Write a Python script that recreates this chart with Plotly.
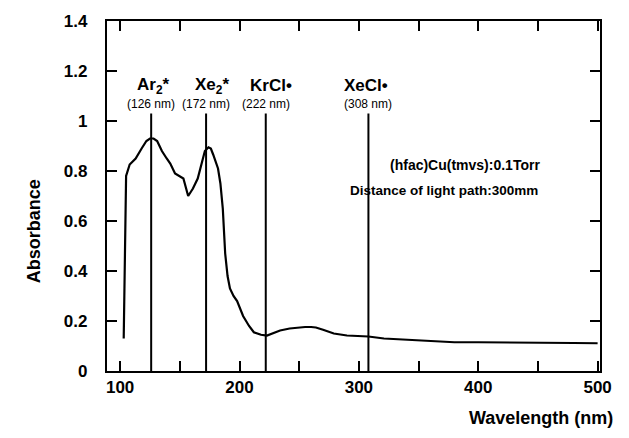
import plotly.graph_objects as go

# Absorbance spectrum of (hfac)Cu(tmvs)
wavelength = [103, 104, 105, 108, 113, 118, 122, 125, 128, 131, 135, 139, 142, 146, 150,
              153, 157, 161, 165, 168, 171, 174, 176, 178, 180, 182, 184, 186, 187, 188,
              190, 192, 195, 198, 203, 208, 212, 218, 223, 228, 234, 242, 249, 255, 260,
              264, 270, 279, 290, 308, 321, 340, 358, 380, 400, 419, 440, 460, 480, 500]
absorbance = [0.13, 0.45, 0.78, 0.826, 0.85, 0.89, 0.92, 0.93, 0.93, 0.92, 0.88, 0.85, 0.83, 0.79, 0.78,
              0.77, 0.70, 0.73, 0.77, 0.83, 0.88, 0.895, 0.89, 0.865, 0.84, 0.81, 0.75, 0.65, 0.56, 0.47,
              0.38, 0.33, 0.30, 0.28, 0.22, 0.18, 0.155, 0.145, 0.142, 0.15, 0.162, 0.17, 0.174, 0.176, 0.176,
              0.174, 0.165, 0.15, 0.142, 0.138, 0.13, 0.125, 0.12, 0.115, 0.115, 0.115, 0.113, 0.112, 0.112, 0.111]

# Excimer lamp lines
lamp_nm = [126, 172, 222, 308]
lamp_names = ["Ar<sub>2</sub>*", "Xe<sub>2</sub>*", "KrCl•", "XeCl•"]
lamp_sub = ["(126 nm)", "(172 nm)", "(222 nm)", "(308 nm)"]
lamp_top = 1.03

x_range = [89, 502]
y_range = [0, 1.4]

FONT = "Liberation Sans"
BOLD = dict(family=FONT, color="black", weight="bold")
fig = go.Figure()

for wl in lamp_nm:
    fig.add_trace(go.Scatter(x=[wl, wl], y=[0, lamp_top], mode="lines",
                             line=dict(color="black", width=2), showlegend=False,
                             hoverinfo="skip"))

fig.add_trace(go.Scatter(x=wavelength, y=absorbance, mode="lines",
                         line=dict(color="black", width=2.2), showlegend=False))

name_x = [128, 177, 226, 306]
for wl, nm, sub, nx in zip(lamp_nm, lamp_names, lamp_sub, name_x):
    fig.add_annotation(x=nx, y=1.142, text=nm, showarrow=False,
                       font=dict(BOLD, size=17))
    fig.add_annotation(x=wl, y=1.067, text=sub, showarrow=False,
                       font=dict(family=FONT, size=12, color="black"))

fig.add_annotation(x=1.0, xref="paper", xanchor="right", xshift=-58, y=0.826,
                   text="(hfac)Cu(tmvs):0.1Torr", showarrow=False,
                   font=dict(BOLD, size=14))
fig.add_annotation(x=1.0, xref="paper", xanchor="right", xshift=-60, y=0.723,
                   text="Distance of light path:300mm", showarrow=False,
                   font=dict(BOLD, size=13.5))

fig.add_annotation(x=1.03, xref="paper", xanchor="right", y=-0.135, yref="paper",
                   yanchor="middle", text="Wavelength (nm)", showarrow=False,
                   font=dict(BOLD, size=18))
fig.add_annotation(x=-0.172, xref="paper", y=0.40, yref="paper", textangle=-90,
                   text="Absorbance", showarrow=False,
                   font=dict(BOLD, size=18))

fig.update_layout(
    template="simple_white",
    xaxis=dict(range=x_range, tickmode="linear", tick0=100, dtick=50,
               ticks="inside", ticklen=10, tickwidth=2, tickcolor="black",
               showline=True, linecolor="black", linewidth=2, mirror="ticks",
               showgrid=False, zeroline=False,
               tickvals=None, tickfont=dict(BOLD, size=17),
               tickformat="d", labelalias={150: " ", 250: " ", 350: " ", 450: " "}),
    yaxis=dict(range=y_range, tickmode="linear", tick0=0, dtick=0.2,
               ticks="inside", ticklen=10, tickwidth=2, tickcolor="black",
               showline=True, linecolor="black", linewidth=2, mirror="ticks",
               showgrid=False, zeroline=False,
               ticksuffix="\u00a0\u00a0\u00a0", tickfont=dict(BOLD, size=17)),
    width=629, height=438, margin=dict(l=107, r=29, t=17, b=67),
    font=dict(family=FONT, color="black"))
fig.write_html("out.html")
